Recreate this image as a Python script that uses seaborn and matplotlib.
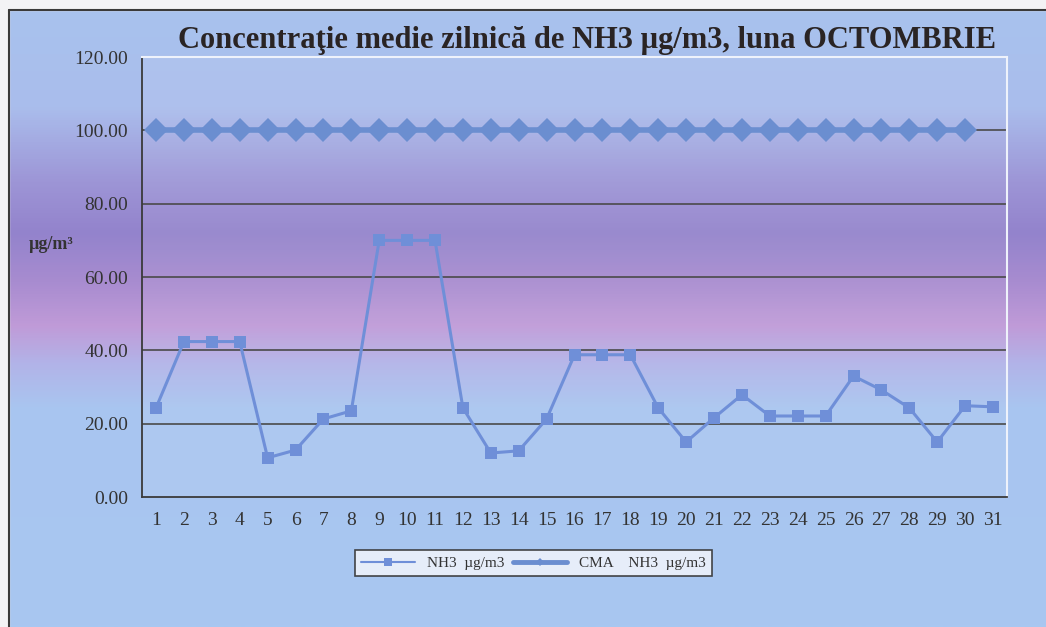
import numpy as np
import pandas as pd
import matplotlib
matplotlib.use("Agg")
import matplotlib.pyplot as plt
from matplotlib.colors import LinearSegmentedColormap
from matplotlib.lines import Line2D
import seaborn as sns

# Data
days = list(range(1, 32))
nh3 = [24.3, 42.4, 42.4, 42.4, 10.7, 12.8, 21.3, 23.5, 70.0, 70.0, 70.0,
       24.3, 12.0, 12.6, 21.3, 38.8, 38.8, 38.8, 24.3, 15.0, 21.6, 27.9,
       22.1, 22.1, 22.1, 33.0, 29.2, 24.3, 15.0, 24.9, 24.6]
cma_days = list(range(1, 31))
cma = [100.0] * 30
y_ticks = [0, 20, 40, 60, 80, 100, 120]

sns.set_style("white")
plt.rcParams['font.family'] = ['Liberation Serif', 'DejaVu Serif']

fig = plt.figure(figsize=(10.46, 6.27), dpi=100)

# background gradient for the whole chart area
bg = fig.add_axes([0, 0, 1, 1], zorder=0)
stops = [(0.0, '#a8c3ee'), (0.17, '#aabdec'), (0.29, '#9d95d6'),
         (0.37, '#9383cc'), (0.45, '#a88cd0'), (0.52, '#c09bd8'),
         (0.58, '#b2b3e8'), (0.65, '#a9c5f0'), (1.0, '#a8c7f1')]
cmap = LinearSegmentedColormap.from_list('bg', stops)
grad = np.linspace(0, 1, 512).reshape(-1, 1)
bg.imshow(grad, aspect='auto', cmap=cmap, extent=[0, 1, 0, 1], origin='upper')
bg.set_xlim(0, 1)
bg.set_ylim(0, 1)
# paper outside the chart frame
bg.fill_between([0, 9 / 1046], 0, 1, color='#f3f3f5', zorder=2)
bg.fill_between([0, 1], 1 - 10 / 627, 1, color='#f3f3f5', zorder=2)
bg.plot([9 / 1046, 9 / 1046], [0, 1 - 10 / 627], color='#3a3a3a', lw=1.5, zorder=3)
bg.plot([9 / 1046, 1], [1 - 10 / 627, 1 - 10 / 627], color='#3a3a3a', lw=1.5, zorder=3)
bg.axis('off')

ax = fig.add_axes([0.1358, 0.2073, 0.8269, 0.7017], zorder=1)
ax.set_facecolor((1, 1, 1, 0.06))

line_col = '#6f8fd8'
df_nh3 = pd.DataFrame({'day': days, 'value': nh3})
df_cma = pd.DataFrame({'day': cma_days, 'value': cma})

sns.lineplot(data=df_cma, x='day', y='value', ax=ax, color='#6b8ed0', lw=4,
             marker='D', markersize=12, markeredgewidth=0, zorder=4)
sns.lineplot(data=df_nh3, x='day', y='value', ax=ax, color=line_col, lw=2.2,
             marker='s', markersize=8, markeredgewidth=0, zorder=5)

for v in y_ticks[1:-1]:
    ax.axhline(v, color='#4a4a4a', lw=1.2, zorder=2)

ax.set_xlim(0.5, 31.5)
ax.set_ylim(0, 120)
ax.set_yticks(y_ticks)
ax.set_yticklabels([f'{v:.2f}' for v in y_ticks], fontsize=14, color='#333333')

ax.set_xticks(np.arange(0.5, 32, 1))
ax.set_xticklabels([])
ax.set_xticks(days, minor=True)
ax.set_xticklabels([str(d) for d in days], minor=True, fontsize=14, color='#333333')
ax.tick_params(axis='x', which='major', direction='out', length=6, width=1.2, color='#333333')
ax.tick_params(axis='x', which='minor', length=0, pad=11)
ax.tick_params(axis='y', direction='out', length=6, width=1.2, color='#333333', pad=4)
ax.set_xlabel('')
ax.set_ylabel('')

for side in ['left', 'bottom']:
    ax.spines[side].set_color('#3a3a3a')
    ax.spines[side].set_linewidth(1.3)
for side in ['top', 'right']:
    ax.spines[side].set_color('#eef2fb')
    ax.spines[side].set_linewidth(1.5)

fig.text(0.561, 0.936, 'Concentraţie medie zilnică de NH3 µg/m3, luna OCTOMBRIE',
         ha='center', va='center', fontsize=22, fontweight='bold', color='#2a2424')
fig.text(0.027, 0.61, 'µg/m³', ha='left', va='center', fontsize=13,
         fontweight='bold', color='#333333')

handles = [
    Line2D([], [], color=line_col, lw=1.5, marker='s', markersize=6, markeredgewidth=0),
    Line2D([], [], color='#6b8ed0', lw=3.5, marker='D', markersize=4, markeredgewidth=0),
]
leg = fig.legend(handles, ['NH3  µg/m3', 'CMA    NH3  µg/m3'], loc='center',
                 bbox_to_anchor=(0.51, 0.102), ncol=2, fontsize=11, frameon=True,
                 fancybox=False, handlelength=3.5, columnspacing=0.6,
                 handletextpad=0.8, borderpad=0.4)
leg.get_frame().set_edgecolor('#333333')
leg.get_frame().set_facecolor('#eef2fb')
leg.get_frame().set_linewidth(1.2)
leg.get_frame().set_alpha(0.9)
for t in leg.get_texts():
    t.set_color('#333333')

fig.savefig('out.png', dpi=100)
